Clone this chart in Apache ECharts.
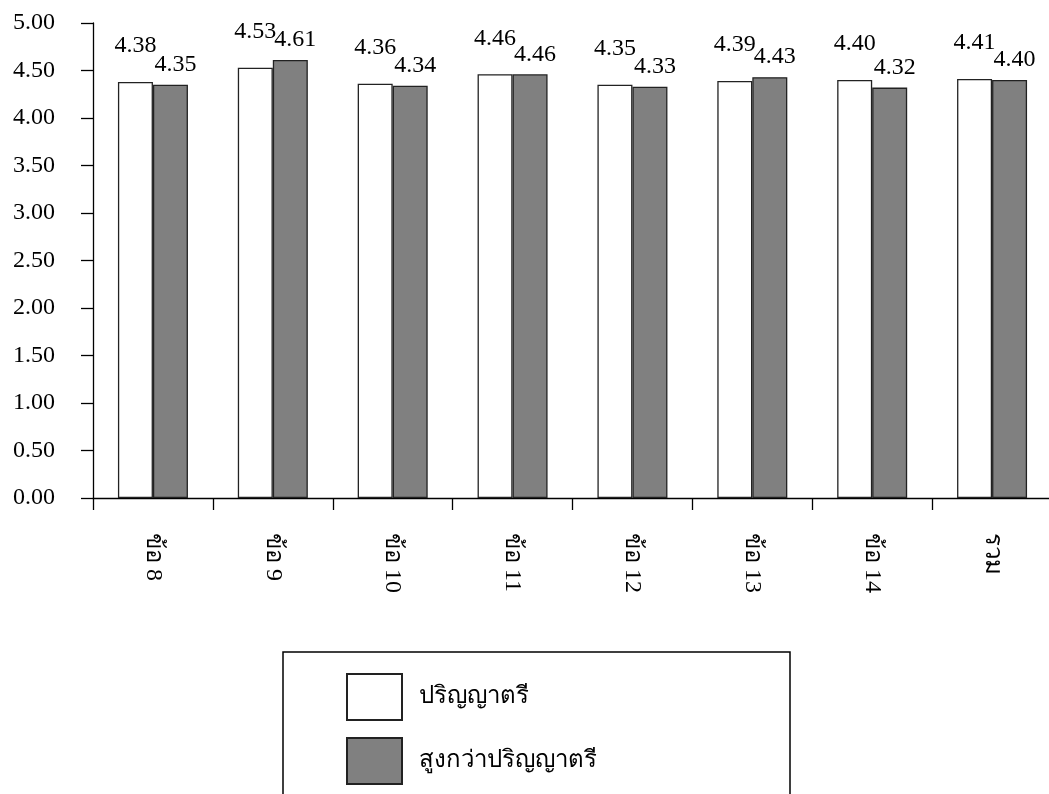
<!DOCTYPE html>
<html>
<head>
<meta charset="utf-8">
<script src="https://cdn.jsdelivr.net/npm/echarts@6/dist/echarts.min.js"></script>
<style>
html,body{margin:0;padding:0;background:#fff;}
#chart{width:1049px;height:794px;}
</style>
</head>
<body>
<div id="chart"></div>
<script>
const categories = ['ข้อ 8','ข้อ 9','ข้อ 10','ข้อ 11','ข้อ 12','ข้อ 13','ข้อ 14','รวม'];
const bachelor = [4.38,4.53,4.36,4.46,4.35,4.39,4.40,4.41];
const aboveBachelor = [4.35,4.61,4.34,4.46,4.33,4.43,4.32,4.40];
const seriesNames = ['ปริญญาตรี','สูงกว่าปริญญาตรี'];
const yMin = 0, yMax = 5, yStep = 0.5;

const FONT = "Liberation Serif";
const chart = echarts.init(document.getElementById('chart'), null, {renderer:'canvas'});
chart.setOption({
  backgroundColor:'#ffffff',
  animation:false,
  grid:{left:93, top:23, right:-3, bottom:296, containLabel:false, outerBoundsMode:'none'},
  xAxis:{
    type:'category', data:categories,
    axisLine:{lineStyle:{color:'#000', width:1.3}},
    axisTick:{show:true, alignWithLabel:false, length:12, lineStyle:{color:'#000', width:1.3}},
    axisLabel:{rotate:-90, margin:35, fontFamily:FONT, fontSize:24, color:'#000', interval:0}
  },
  yAxis:[
    {type:'value', min:yMin, max:yMax, interval:yStep, position:'left',
     splitLine:{show:false},
     axisLine:{show:true, lineStyle:{color:'#000', width:1.3}},
     axisTick:{show:true, length:12, lineStyle:{color:'#000', width:1.3}},
     axisLabel:{show:false}},
    {type:'value', min:yMin, max:yMax, interval:yStep, position:'left', offset:30,
     splitLine:{show:false},
     axisLine:{show:false}, axisTick:{show:false},
     axisLabel:{margin:8, fontFamily:FONT, fontSize:24, color:'#000', formatter:v=>v.toFixed(2)}}
  ],
  legend:{
    orient:'vertical', left:346, top:673, itemWidth:55, itemHeight:46, itemGap:16,
    padding:0, icon:'rect',
    textStyle:{fontFamily:FONT, fontSize:24, color:'#000', padding:[0,0,0,12]},
    data:seriesNames
  },
  series:[
    {name:seriesNames[0], type:'bar', yAxisIndex:0, data:bachelor, barWidth:35, barGap:'0%',
     itemStyle:{color:'#ffffff', borderColor:'#222', borderWidth:1.3},
     label:{show:true, position:'top', distance:24, fontFamily:FONT, fontSize:24, color:'#000', formatter:p=>p.value.toFixed(2)}},
    {name:seriesNames[1], type:'bar', yAxisIndex:0, data:aboveBachelor, barWidth:35,
     itemStyle:{color:'#808080', borderColor:'#222', borderWidth:1.3},
     label:{show:true, position:'top', distance:8, offset:[5,0], fontFamily:FONT, fontSize:24, color:'#000', formatter:p=>p.value.toFixed(2)}}
  ],
  graphic:[
    {type:'rect', z:100, silent:true, shape:{x:0, y:594, width:1049, height:57}, style:{fill:'#ffffff'}},
    {type:'rect', z:100, silent:true, shape:{x:283, y:652, width:507, height:160}, style:{fill:'none', stroke:'#000', lineWidth:1.5}}
  ]
});
</script>
</body>
</html>
